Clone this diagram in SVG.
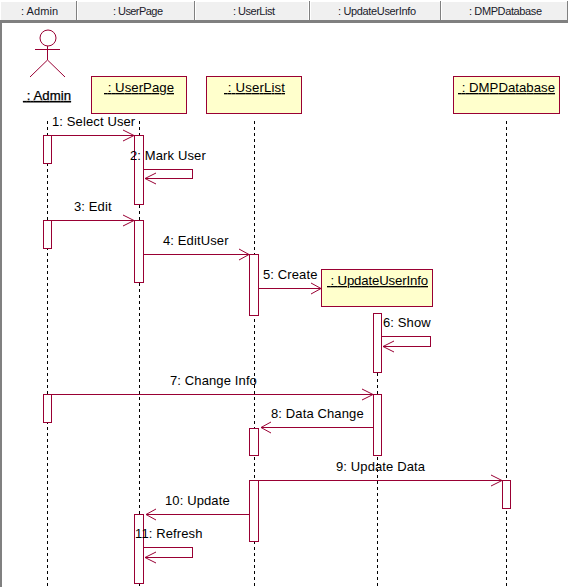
<svg xmlns="http://www.w3.org/2000/svg" width="568" height="587" viewBox="0 0 568 587">
<style>
text{font-family:"Liberation Sans",Arial,sans-serif;fill:#000}
.h{font-size:11px;fill:#1a1a2a}
.l{font-size:13px;letter-spacing:.12px}
.n{font-size:13.2px;text-decoration:underline}
.btn{fill:#f0f0f0;stroke:none}
.box{fill:#ffffcc;stroke:#990033;stroke-width:1;shape-rendering:crispEdges}
.act{fill:#fff;stroke:#990033;stroke-width:1;shape-rendering:crispEdges}
.life{fill:none;stroke:#000;stroke-width:1;stroke-dasharray:3 3;shape-rendering:crispEdges}
.m{fill:none;stroke:#990033;stroke-width:1;shape-rendering:crispEdges}
.s{fill:none;stroke:#990033;stroke-width:1}
.a{fill:none;stroke:#990033;stroke-width:1}
</style>
<rect width="568" height="587" fill="#fff"/>
<g id="header">
<rect x="0" y="0" width="568" height="21" fill="#fff"/>
<rect class="btn" x="1" y="2" width="75" height="18"/>
<rect class="btn" x="78" y="2" width="116" height="18"/>
<rect class="btn" x="196" y="2" width="112" height="18"/>
<rect class="btn" x="311" y="2" width="129" height="18"/>
<rect class="btn" x="442" y="2" width="125" height="18"/>
<path d="M76.500 1V20M194.500 1V20M309.500 1V20M440.500 1V20M567.500 1V20" stroke="#808080" fill="none"/>
<rect x="0" y="20" width="568" height="3" fill="#808080"/>
<rect x="0" y="20" width="2" height="567" fill="#808080"/>
<text class="h" x="21" y="15" textLength="37">: Admin</text>
<text class="h" x="113" y="15" textLength="50">: UserPage</text>
<text class="h" x="233" y="15" textLength="42">: UserList</text>
<text class="h" x="338" y="15" textLength="78">: UpdateUserInfo</text>
<text class="h" x="469" y="15" textLength="73">: DMPDatabase</text>
</g>
<g id="admin">
<path class="life" d="M47.500 121V587"/>
<circle class="s" cx="48" cy="38" r="8"/>
<path class="s" d="M35 49.500H60M47.500 46V60M47.500 60L30 77M47.500 60L65 77"/>
<text class="n" x="23" y="100" textLength="48" style="stroke:#000;stroke-width:.25">&#160;: Admin</text>
<rect class="act" x="43.500" y="135.500" width="8" height="28"/>
<rect class="act" x="43.500" y="220.500" width="8" height="28"/>
<rect class="act" x="43.500" y="394.500" width="8" height="28"/>
</g>
<g id="userpage">
<path class="life" d="M139.500 121V587"/>
<rect class="box" x="91.500" y="76.500" width="95" height="37"/>
<text class="n" x="104" y="92" textLength="70">&#160;: UserPage</text>
<rect class="act" x="134.500" y="135.500" width="9" height="69"/>
<rect class="act" x="134.500" y="220.500" width="9" height="62"/>
<rect class="act" x="134.500" y="514.500" width="9" height="69"/>
</g>
<g id="userlist">
<path class="life" d="M254.500 121V587"/>
<rect class="box" x="206.500" y="76.500" width="95" height="37"/>
<text class="n" x="224" y="92" textLength="61">&#160;: UserList</text>
<rect class="act" x="249.500" y="254.500" width="9" height="61"/>
<rect class="act" x="249.500" y="428.500" width="9" height="27"/>
<rect class="act" x="249.500" y="480.500" width="9" height="61"/>
</g>
<g id="updateuserinfo">
<path class="life" d="M377.500 373V587"/>
<rect class="box" x="321.500" y="269.500" width="111" height="37"/>
<text class="n" x="327" y="285" textLength="101">&#160;: UpdateUserInfo</text>
<rect class="act" x="373.500" y="313.500" width="8" height="59"/>
<rect class="act" x="373.500" y="394.500" width="8" height="61"/>
</g>
<g id="dmpdatabase">
<path class="life" d="M506.500 121V587"/>
<rect class="box" x="453.500" y="76.500" width="106" height="37"/>
<text class="n" x="458" y="92" textLength="97">&#160;: DMPDatabase</text>
<rect class="act" x="502.500" y="480.500" width="8" height="28"/>
</g>
<g id="connectors">
<path class="m" d="M51 135.500H134"/><path class="a" d="M123 130L134 135.500L123 141"/>
<path class="m" d="M144 169.500H192.500V178.500H145"/><path class="a" d="M156 173L145 178.500L156 184"/>
<path class="m" d="M51 220.500H134"/><path class="a" d="M123 215L134 220.500L123 226"/>
<path class="m" d="M144 254.500H249"/><path class="a" d="M239 249L249 254.500L239 260"/>
<path class="m" d="M259 288.500H321"/><path class="a" d="M311 283L321 288.500L311 294"/>
<path class="m" d="M382 336.500H430.500V346.500H383"/><path class="a" d="M394 341L383 346.500L394 352"/>
<path class="m" d="M51 394.500H373"/><path class="a" d="M362 389L373 394.500L362 400"/>
<path class="m" d="M373 427.500H261"/><path class="a" d="M271 422L261 427.500L271 433"/>
<path class="m" d="M259 480.500H502"/><path class="a" d="M491 475L502 480.500L491 486"/>
<path class="m" d="M249 514.500H146"/><path class="a" d="M156 509L146 514.500L156 520"/>
<path class="m" d="M144 547.500H192.500V557.500H145"/><path class="a" d="M156 552L145 557.500L156 563"/>
</g>
<g id="labels">
<text class="l" x="52" y="126">1: Select User</text>
<text class="l" x="130" y="160">2: Mark User</text>
<text class="l" x="74" y="211">3: Edit</text>
<text class="l" x="163" y="245">4: EditUser</text>
<text class="l" x="263" y="279">5: Create</text>
<text class="l" x="383" y="327">6: Show</text>
<text class="l" x="170" y="385">7: Change Info</text>
<text class="l" x="271" y="418">8: Data Change</text>
<text class="l" x="336" y="471">9: Update Data</text>
<text class="l" x="165" y="505">10: Update</text>
<text class="l" x="135" y="538">11: Refresh</text>
</g>
</svg>
